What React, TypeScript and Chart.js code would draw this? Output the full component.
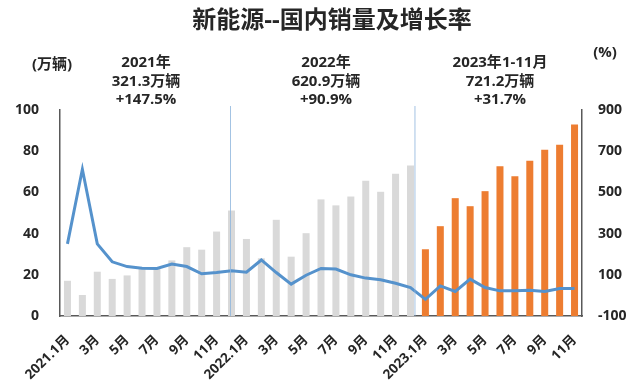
import React, { useEffect, useRef } from 'react';
import { Chart, registerables } from 'chart.js';

Chart.register(...registerables);

const monthLabels = [
  '2021.1月', '2月', '3月', '4月', '5月', '6月', '7月', '8月', '9月', '10月', '11月', '12月',
  '2022.1月', '2月', '3月', '4月', '5月', '6月', '7月', '8月', '9月', '10月', '11月', '12月',
  '2023.1月', '2月', '3月', '4月', '5月', '6月', '7月', '8月', '9月', '10月', '11月',
];
const periodYear = [
  2021, 2021, 2021, 2021, 2021, 2021, 2021, 2021, 2021, 2021, 2021, 2021,
  2022, 2022, 2022, 2022, 2022, 2022, 2022, 2022, 2022, 2022, 2022, 2022,
  2023, 2023, 2023, 2023, 2023, 2023, 2023, 2023, 2023, 2023, 2023,
];
const salesWan = [
  17.1, 10.2, 21.5, 18.0, 19.7, 23.0, 23.0, 27.0, 33.4, 32.2, 41.0, 51.2,
  37.4, 28.0, 46.7, 28.8, 40.2, 56.6, 53.7, 58.0, 65.7, 60.3, 69.1, 73.0,
  32.4, 43.6, 57.2, 53.3, 60.6, 72.7, 67.8, 75.4, 80.7, 83.1, 93.0,
];
const growthPct = [
  250, 612, 250, 163, 140, 132, 131, 152, 140, 105, 111, 120,
  113, 172, 111, 55, 98, 131, 128, 100, 84, 76, 59, 38,
  -19, 46, 19, 79, 38, 22, 22, 25, 19, 33, 33,
];
const leftTicksMax = 100;
const rightTicksMin = -100;
const rightTicksMax = 900;

const titleText = '新能源--国内销量及增长率';
const leftUnit = '(万辆)';
const rightUnit = '(%)';
const blocks = [
  { lines: ['2021年', '321.3万辆', '+147.5%'], cx: 146 },
  { lines: ['2022年', '620.9万辆', '+90.9%'], cx: 326 },
  { lines: ['2023年1-11月', '721.2万辆', '+31.7%'], cx: 500 },
];

const FONT = "'Open Sans','Noto Sans CJK SC',sans-serif";
const TEXT = '#262626';
const GREY = '#d9d9d9';
const ORANGE = '#ed7d31';
const LINE = '#5592cc';
const AXIS = '#595959';

const overlay = {
  id: 'overlay',
  afterDatasetsDraw(chart: any) {
    const ctx = chart.ctx;
    const x = chart.scales.x;
    const step = x.getPixelForValue(1) - x.getPixelForValue(0);
    const seps = [x.getPixelForValue(11) - 1, x.getPixelForValue(23) + step * 0.3];
    ctx.save();
    ctx.strokeStyle = 'rgba(140,180,220,0.8)';
    ctx.lineWidth = 1;
    seps.forEach((sx) => {
      ctx.beginPath();
      ctx.moveTo(sx, chart.chartArea.top - 4);
      ctx.lineTo(sx, chart.chartArea.bottom);
      ctx.stroke();
    });
    ctx.restore();
  },
  afterDraw(chart: any) {
    const ctx = chart.ctx;
    ctx.save();
    ctx.fillStyle = TEXT;
    ctx.textAlign = 'center';
    ctx.textBaseline = 'middle';
    ctx.font = `bold 24px ${FONT}`;
    ctx.fillText(titleText, 332, 21);
    ctx.font = `bold 15px ${FONT}`;
    ctx.fillText(leftUnit, 52, 65);
    ctx.fillText(rightUnit, 605, 53);
    blocks.forEach((b) => {
      b.lines.forEach((ln, i) => {
        ctx.fillText(ln, b.cx, 63 + i * 18.5);
      });
    });
    ctx.restore();
  },
};

export default function App() {
  const ref = useRef<HTMLCanvasElement>(null);
  useEffect(() => {
    if (!ref.current) return;
    const chart = new Chart(ref.current, {
      type: 'bar',
      data: {
        labels: monthLabels,
        datasets: [
          {
            type: 'line',
            label: '增长率',
            data: growthPct,
            yAxisID: 'y1',
            borderColor: LINE,
            backgroundColor: LINE,
            borderWidth: 3,
            pointRadius: 0,
            tension: 0,
            order: 0,
          } as any,
          {
            type: 'bar',
            label: '销量',
            data: salesWan,
            yAxisID: 'y',
            backgroundColor: periodYear.map((y) => (y === 2023 ? ORANGE : GREY)),
            barPercentage: 0.47,
            categoryPercentage: 1,
            order: 1,
          },
        ],
      },
      options: {
        responsive: false,
        animation: false,
        layout: { padding: { top: 110, left: 0, right: 0, bottom: 0 } },
        plugins: {
          legend: { display: false },
          tooltip: { enabled: false },
          title: { display: false },
        },
        scales: {
          x: {
            grid: { display: false, drawTicks: false },
            border: { display: true, color: AXIS, width: 1.5 },
            ticks: {
              autoSkip: false,
              maxRotation: 45,
              minRotation: 45,
              padding: 16,
              color: TEXT,
              font: { family: FONT, size: 13.5, weight: 'bold' },
              callback: (_v: any, i: number) => (i % 2 === 0 ? monthLabels[i] : ''),
            },
            afterFit: (s: any) => {
              s.height = 67;
            },
          },
          y: {
            position: 'left',
            min: 0,
            max: leftTicksMax,
            grid: { display: false, drawTicks: false },
            border: { display: true, color: AXIS, width: 1.5 },
            ticks: {
              stepSize: 20,
              padding: 21,
              color: TEXT,
              font: { family: FONT, size: 14, weight: 'bold' },
            },
            afterFit: (s: any) => {
              s.width = 60;
            },
          },
          y1: {
            position: 'right',
            min: rightTicksMin,
            max: rightTicksMax,
            grid: { display: false, drawTicks: false },
            border: { display: true, color: AXIS, width: 1.5 },
            ticks: {
              stepSize: 200,
              padding: 16,
              color: TEXT,
              font: { family: FONT, size: 14, weight: 'bold' },
            },
            afterFit: (s: any) => {
              s.width = 58;
            },
          },
        },
      },
      plugins: [overlay],
    });
    return () => chart.destroy();
  }, []);
  return (
    <div style={{ position: 'absolute', left: 0, top: 0, width: 640, height: 383, background: '#fff' }}>
      <canvas ref={ref} width={640} height={383} />
    </div>
  );
}
